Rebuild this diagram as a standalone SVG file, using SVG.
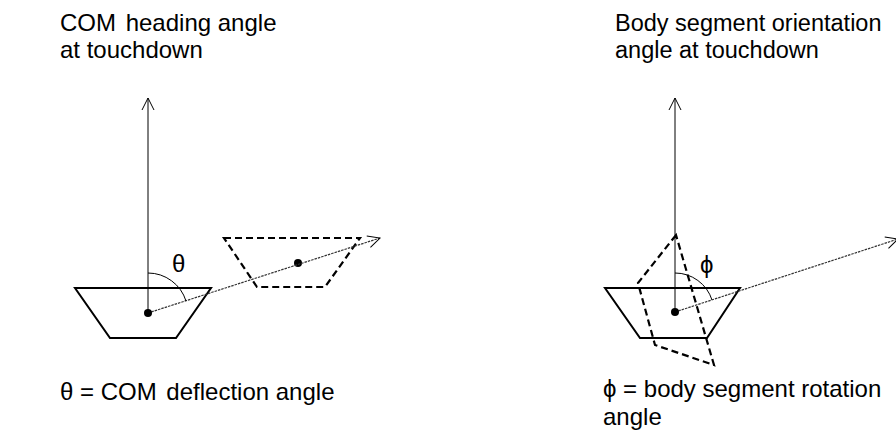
<svg xmlns="http://www.w3.org/2000/svg" width="896" height="441" viewBox="0 0 896 441">
<style>
text{font-family:"Liberation Sans",Arial,sans-serif;font-size:24px;fill:#000}
.solid{fill:none;stroke:#000;stroke-width:2}
.dash{fill:none;stroke:#000;stroke-width:2.2;stroke-dasharray:7,4}
.thin{fill:none;stroke:#000;stroke-width:1}
.dot{fill:none;stroke:#333;stroke-width:1.2;stroke-dasharray:2.5,1}
</style>
<defs>
<marker id="open" viewBox="0 0 14 14" refX="13" refY="7" markerWidth="14" markerHeight="14" markerUnits="userSpaceOnUse" orient="auto">
<path d="M1,1 L13,7 L1,13" fill="none" stroke="#000" stroke-width="1"/>
</marker>
</defs>
<g id="left-title"><text x="60" y="31">COM <tspan dx="3">heading angle</tspan></text><text x="60" y="58">at touchdown</text></g>
<g id="right-title"><text x="615" y="31" style="font-size:23.5px">Body segment orientation</text><text x="615" y="58" style="font-size:23.5px">angle at touchdown</text></g>
<g id="left-caption"><text x="60" y="400">θ = COM <tspan dx="3">deflection angle</tspan></text></g>
<g id="right-caption"><text x="603" y="397">ϕ = body segment rotation</text><text x="603" y="425">angle</text></g>
<g id="left-body"><polygon class="solid" points="75,288 211,288 176,338 110,338"/></g>
<g id="left-moved"><polygon class="dash" points="224,238 360,238 325,287 257,287"/><circle cx="298" cy="263" r="4"/></g>
<g id="right-body"><polygon class="solid" points="605,288 740,288 707,338 640,338"/></g>
<g id="right-rotated"><polygon class="dash" points="676,235 638,283 655,345 714,365"/></g>
<g id="connectors">
<line class="thin" x1="148" y1="313" x2="148" y2="98" marker-end="url(#open)"/>
<line class="dot" x1="148" y1="313" x2="380" y2="238" marker-end="url(#open)"/>
<path class="thin" d="M148,273 A40,40 0 0 1 186,301"/>
<line class="thin" x1="675" y1="312" x2="675" y2="98" marker-end="url(#open)"/>
<line class="dot" x1="675" y1="312" x2="898" y2="239" marker-end="url(#open)"/>
<path class="thin" d="M675,273 A39,39 0 0 1 712,300"/>
</g>
<circle cx="148" cy="313" r="4"/>
<circle cx="675" cy="312" r="4"/>
<g id="labels"><text x="172" y="272">θ</text><text x="700" y="273">ϕ</text></g>
</svg>
